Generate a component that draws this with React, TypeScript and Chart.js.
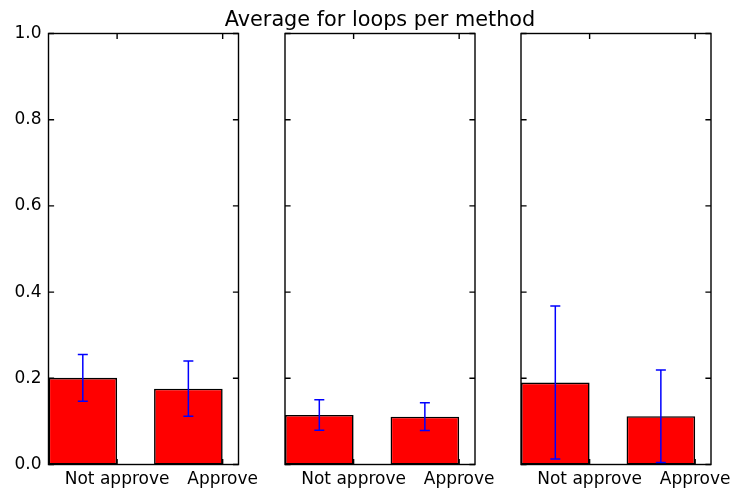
import React, { useEffect, useRef } from 'react';
import { Chart, registerables } from 'chart.js';

Chart.register(...registerables);

// ---- data ----
const TITLE = 'Average for loops per method';
const categories = ['Not approve', 'Approve'];
const panel1Means = [0.201, 0.176];
const panel1Errors = [0.0545, 0.064];
const panel2Means = [0.115, 0.111];
const panel2Errors = [0.0355, 0.032];
const panel3Means = [0.19, 0.112];
const panel3Errors = [0.1775, 0.1075];
const yTicks = [0, 0.2, 0.4, 0.6, 0.8, 1.0];

// ---- layout / style constants ----
const W = 733;
const H = 491;
const X_MIN = 0;
const X_MAX = 1.8;
const BAR_W = 0.65;
const PLOT_LEFT = [48.5, 285, 521];
const PLOT_W = 190;
const PLOT_TOP = 33.5;
const PLOT_BOTTOM = 464.5;
const X_AXIS_H = 26;
const Y_AXIS_W = 48;
const TICK_LEN = 5.6;
const FONT = 'DejaVu Sans';
const TITLE_BASELINE = 26;

const framePlugin = {
  id: 'mplFrame',
  afterDraw(chart: any) {
    const { ctx, chartArea: a, scales } = chart;
    ctx.save();
    ctx.strokeStyle = '#000';
    ctx.lineWidth = 1.4;
    ctx.beginPath();
    scales.y.ticks.forEach((t: any) => {
      const py = scales.y.getPixelForValue(t.value);
      ctx.moveTo(a.left, py);
      ctx.lineTo(a.left + TICK_LEN, py);
      ctx.moveTo(a.right, py);
      ctx.lineTo(a.right - TICK_LEN, py);
    });
    scales.x.ticks.forEach((t: any) => {
      const px = scales.x.getPixelForValue(t.value);
      ctx.moveTo(px, a.top);
      ctx.lineTo(px, a.top + TICK_LEN);
      ctx.moveTo(px, a.bottom);
      ctx.lineTo(px, a.bottom - TICK_LEN);
    });
    ctx.stroke();
    ctx.strokeRect(a.left, a.top, a.right - a.left, a.bottom - a.top);
    const title = chart.config.options.axesTitle;
    if (title) {
      ctx.fillStyle = '#000';
      ctx.font = `20.8px "${FONT}"`;
      ctx.textAlign = 'center';
      ctx.textBaseline = 'alphabetic';
      ctx.fillText(title, (a.left + a.right) / 2, TITLE_BASELINE);
    }
    ctx.restore();
  },
};

const errorBarPlugin = {
  id: 'errorBars',
  afterDatasetsDraw(chart: any) {
    const { ctx, scales } = chart;
    const ds: any = chart.data.datasets[0];
    const errs: number[] = ds.errors || [];
    ctx.save();
    ctx.strokeStyle = '#0000ff';
    ctx.lineWidth = 1.5;
    ctx.beginPath();
    ds.data.forEach((p: any, i: number) => {
      const px = scales.x.getPixelForValue(p.x);
      const top = scales.y.getPixelForValue(p.y + errs[i]);
      const bot = scales.y.getPixelForValue(p.y - errs[i]);
      ctx.moveTo(px, top);
      ctx.lineTo(px, bot);
      ctx.moveTo(px - 5, top);
      ctx.lineTo(px + 5, top);
      ctx.moveTo(px - 5, bot);
      ctx.lineTo(px + 5, bot);
    });
    ctx.stroke();
    ctx.restore();
  },
};

function makeConfig(idx: number, means: number[], errors: number[]): any {
  const showY = idx === 0;
  const yW = showY ? Y_AXIS_W : 0;
  return {
    type: 'bar',
    data: {
      datasets: [
        {
          data: means.map((v, i) => ({ x: i + BAR_W / 2, y: v })),
          errors,
          backgroundColor: '#ff0000',
          borderColor: '#000000',
          borderWidth: 1.6,
          borderSkipped: false,
          barPercentage: BAR_W,
          categoryPercentage: 1,
        },
      ],
    },
    options: {
      animation: false,
      responsive: false,
      devicePixelRatio: 1,
      axesTitle: idx === 1 ? TITLE : null,
      layout: {
        padding: {
          left: PLOT_LEFT[idx] - yW,
          right: W - (PLOT_LEFT[idx] + PLOT_W),
          top: PLOT_TOP,
          bottom: H - PLOT_BOTTOM - X_AXIS_H,
        },
      },
      plugins: {
        legend: { display: false },
        tooltip: { enabled: false },
        title: { display: false },
      },
      scales: {
        x: {
          type: 'linear',
          min: X_MIN,
          max: X_MAX,
          offset: false,
          grid: { display: false, drawTicks: false },
          border: { display: false },
          afterBuildTicks: (s: any) => {
            s.ticks = categories.map((_, i) => ({ value: i + BAR_W }));
          },
          afterFit: (s: any) => {
            s.height = X_AXIS_H;
            s.paddingLeft = 0;
            s.paddingRight = 0;
          },
          ticks: {
            autoSkip: false,
            maxRotation: 0,
            minRotation: 0,
            padding: 5,
            color: '#000',
            font: { family: FONT, size: 17 },
            callback: (_v: any, i: number) => categories[i],
          },
        },
        y: {
          min: 0,
          max: 1,
          grid: { display: false, drawTicks: false },
          border: { display: false },
          afterBuildTicks: (s: any) => {
            s.ticks = yTicks.map((v) => ({ value: v }));
          },
          afterFit: (s: any) => {
            s.width = yW;
            s.paddingTop = 0;
            s.paddingBottom = 0;
          },
          ticks: {
            display: showY,
            padding: 7,
            color: '#000',
            font: { family: FONT, size: 17 },
            callback: (v: any) => Number(v).toFixed(1),
          },
        },
      },
    },
    plugins: [errorBarPlugin, framePlugin],
  };
}

export default function App() {
  const r1 = useRef<HTMLCanvasElement>(null);
  const r2 = useRef<HTMLCanvasElement>(null);
  const r3 = useRef<HTMLCanvasElement>(null);

  useEffect(() => {
    const panels = [
      [r1.current, panel1Means, panel1Errors],
      [r2.current, panel2Means, panel2Errors],
      [r3.current, panel3Means, panel3Errors],
    ] as const;
    const charts = panels.map(([c, m, e], i) => new Chart(c as HTMLCanvasElement, makeConfig(i, m as number[], e as number[])));
    return () => charts.forEach((c) => c.destroy());
  }, []);

  const cs: React.CSSProperties = { position: 'absolute', left: 0, top: 0, width: W, height: H };
  return (
    <div style={{ position: 'fixed', left: 0, top: 0, width: W, height: H, background: '#fff' }}>
      <canvas ref={r1} width={W} height={H} style={cs} />
      <canvas ref={r2} width={W} height={H} style={cs} />
      <canvas ref={r3} width={W} height={H} style={cs} />
    </div>
  );
}
